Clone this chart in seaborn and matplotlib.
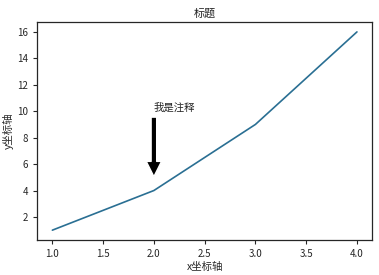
import matplotlib
matplotlib.use("Agg")
import matplotlib.pyplot as plt
import seaborn as sns
import pandas as pd

x_values = [1, 2, 3, 4]
y_values = [1, 4, 9, 16]
title = "标题"
x_label = "x坐标轴"
y_label = "y坐标轴"
note_text = "我是注释"
note_xy = (2, 5)
note_text_xy = (2, 10)

sns.set_style("ticks")
plt.rcParams['font.family'] = ['Noto Sans CJK SC', 'DejaVu Sans']
plt.rcParams['axes.unicode_minus'] = False

df = pd.DataFrame({"x": x_values, "y": y_values})

fig = plt.figure(figsize=(3.79, 2.75), dpi=100)
ax = fig.add_axes([0.098, 0.127, 0.884, 0.793])
sns.lineplot(data=df, x="x", y="y", ax=ax, color="#2a6f93", linewidth=1.2)
ax.set_title(title, fontsize=8, pad=4)
ax.set_xlabel(x_label, fontsize=7.5, labelpad=2)
ax.set_ylabel(y_label, fontsize=7.5, labelpad=2)
ax.tick_params(labelsize=7, length=3, width=0.8)
for s in ax.spines.values():
    s.set_linewidth(0.9)
ax.annotate(note_text, xy=note_xy, xytext=note_text_xy, fontsize=7.5,
            arrowprops=dict(facecolor='black', shrink=0.01, width=4, headwidth=11, headlength=11))
fig.savefig("out.png", dpi=100)
